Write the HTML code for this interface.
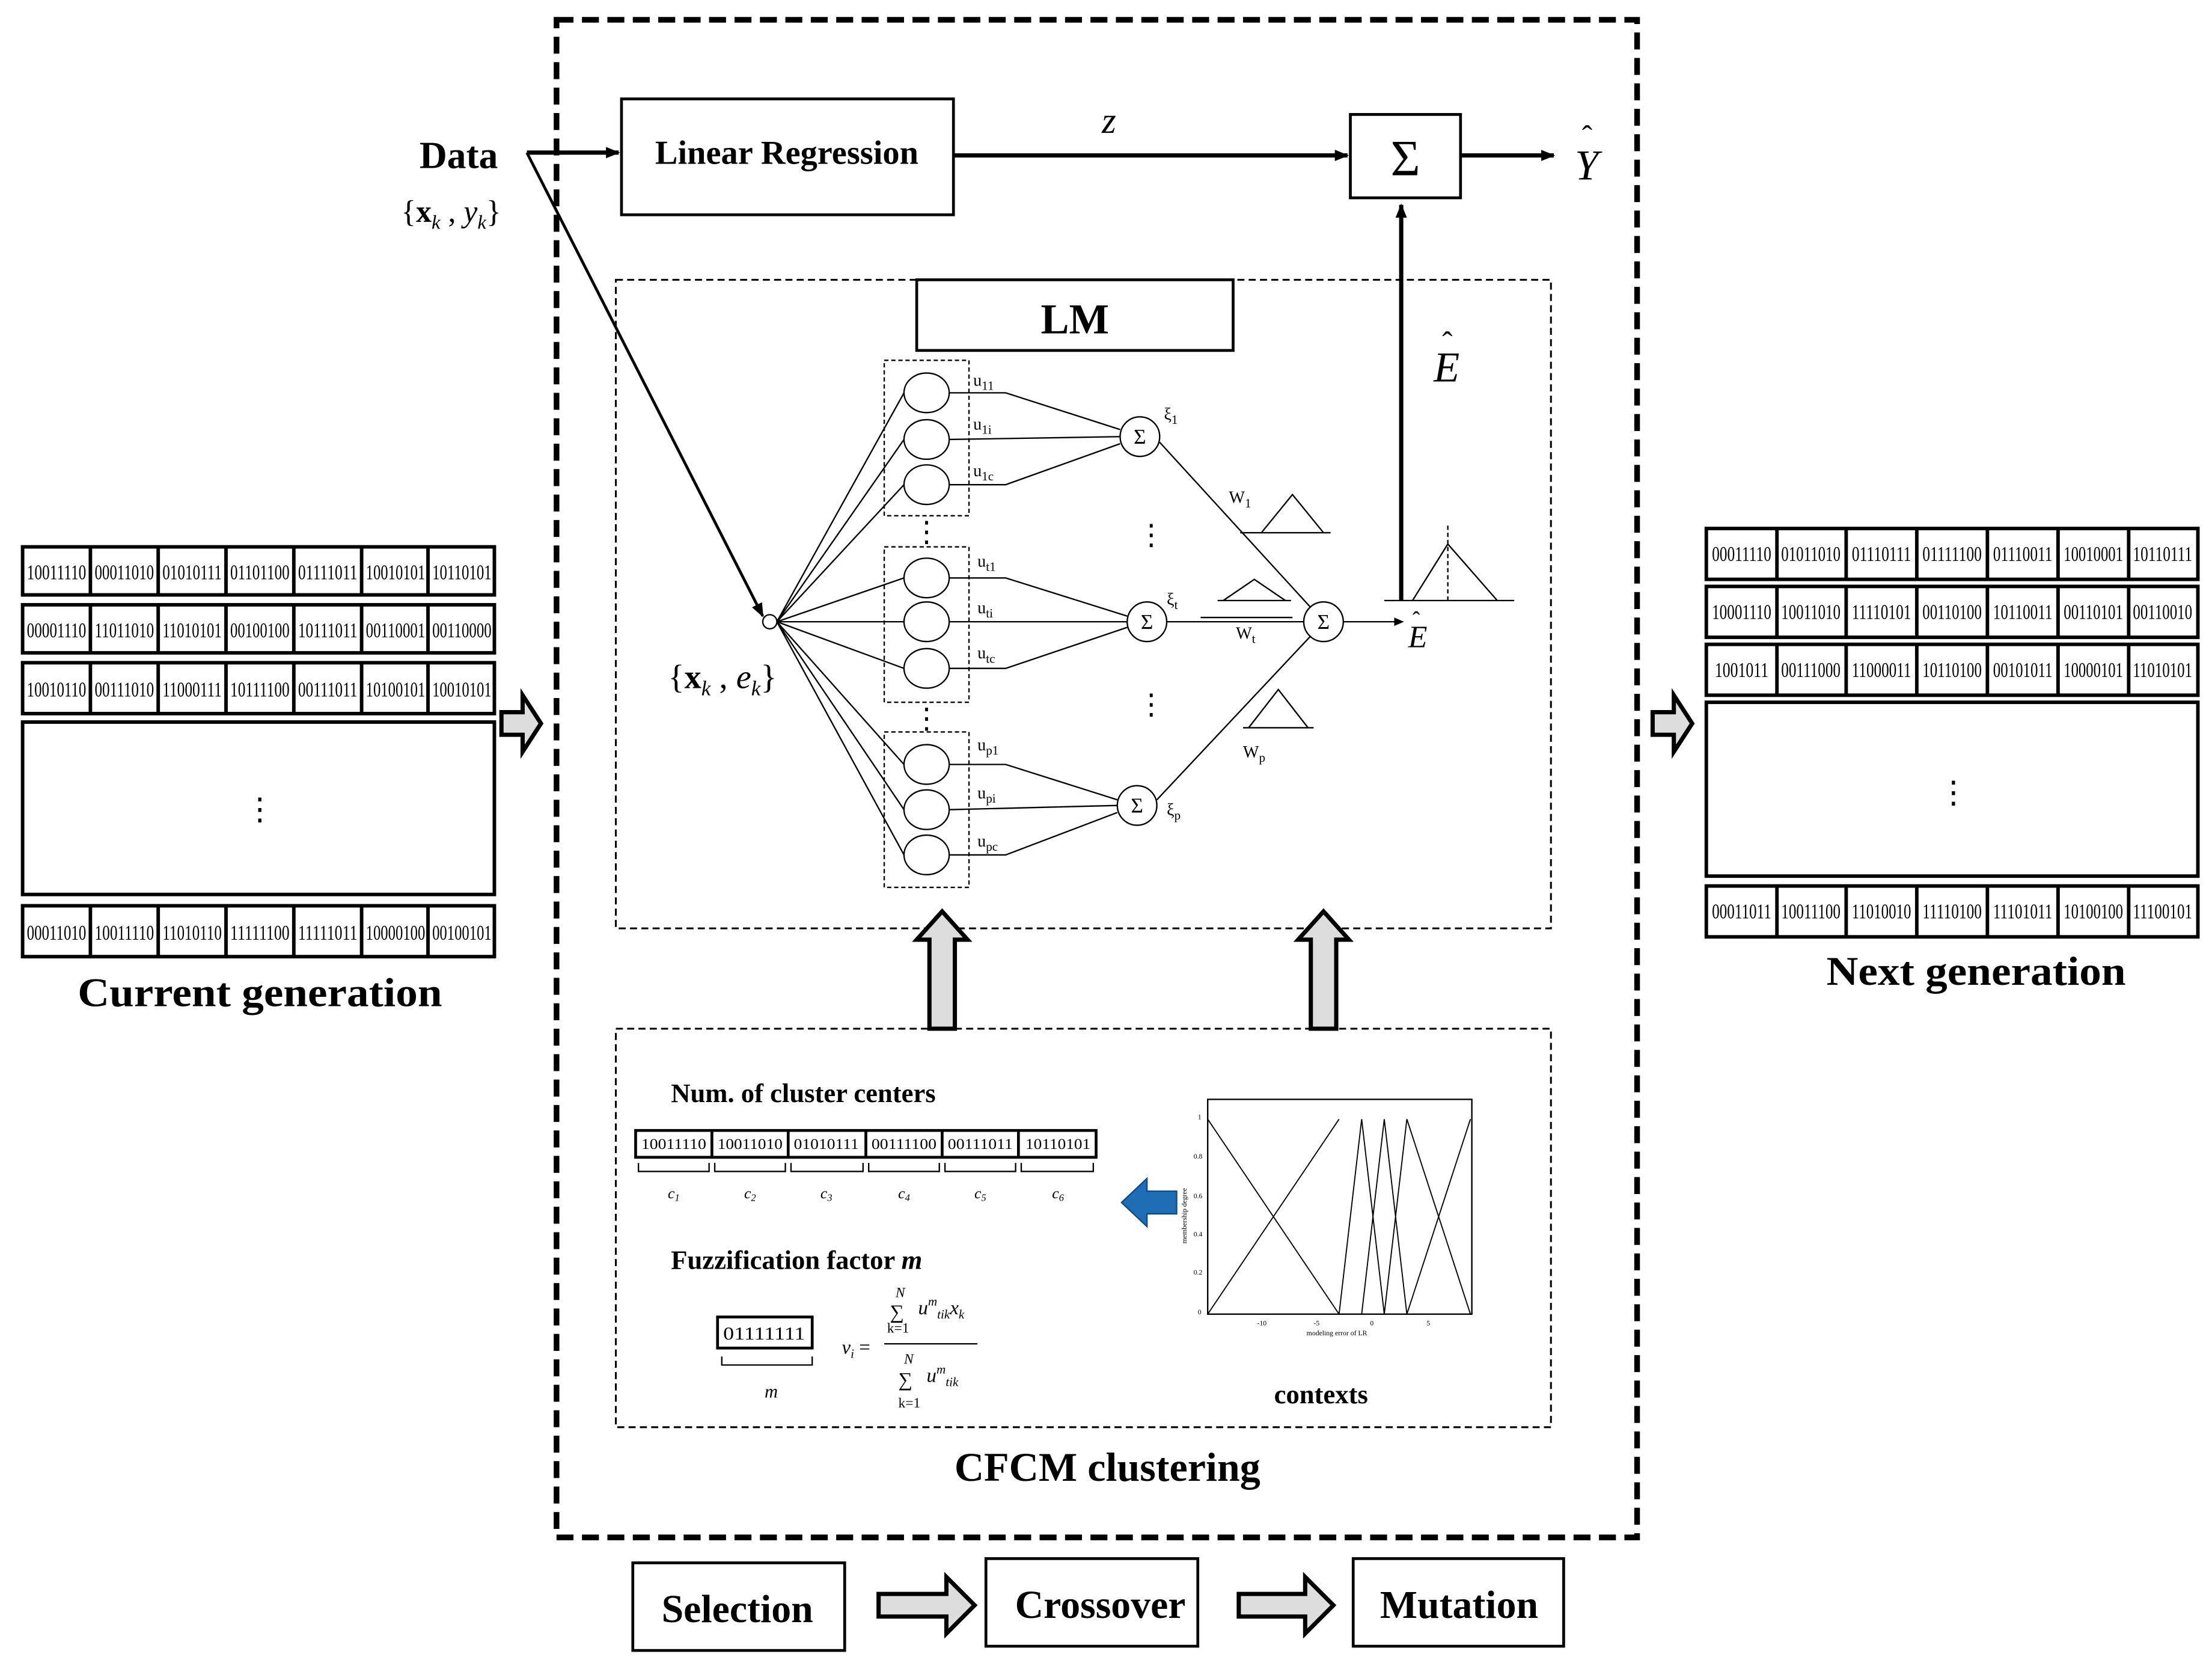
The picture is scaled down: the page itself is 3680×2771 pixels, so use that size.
<!DOCTYPE html>
<html><head><meta charset="utf-8"><style>
html,body{margin:0;padding:0;background:#fff}
svg{display:block}
text{font-family:"Liberation Serif",serif}
.b{font-weight:bold}
</style></head><body>
<svg width="3680" height="2771" viewBox="0 0 1566 1179" preserveAspectRatio="none" xmlns="http://www.w3.org/2000/svg">
<defs>
<marker id="a" markerWidth="10" markerHeight="10" refX="9" refY="5" orient="auto" markerUnits="userSpaceOnUse"><path d="M0,1 L10,5 L0,9 z" fill="#000"/></marker>
<marker id="s" markerWidth="7" markerHeight="7" refX="6" refY="3.5" orient="auto" markerUnits="userSpaceOnUse"><path d="M0,0.5 L7,3.5 L0,6.5 z" fill="#000"/></marker>
</defs>
<rect width="1566" height="1179" fill="#fff"/>
<rect x="394" y="14" width="765" height="1074" fill="none" stroke="#000" stroke-width="4" stroke-dasharray="12,6"/>
<text x="297" y="119" font-size="27" class="b">Data</text>
<text x="284" y="157" font-size="22">{<tspan font-weight="bold">x</tspan><tspan font-size="14" font-style="italic" dy="5">k</tspan><tspan dy="-5"> , </tspan><tspan font-style="italic">y</tspan><tspan font-size="14" font-style="italic" dy="5">k</tspan><tspan dy="-5">}</tspan></text>
<line x1="373" y1="108" x2="438" y2="108" stroke="#000" stroke-width="3" marker-end="url(#a)"/>
<rect x="440" y="70" width="235" height="82" fill="none" stroke="#000" stroke-width="2"/>
<text x="557" y="116" font-size="24" class="b" text-anchor="middle">Linear Regression</text>
<line x1="675" y1="110" x2="954" y2="110" stroke="#000" stroke-width="3" marker-end="url(#a)"/>
<text x="780" y="94" font-size="26" font-style="italic">z</text>
<rect x="956" y="81" width="78" height="59" fill="none" stroke="#000" stroke-width="2"/>
<text x="995" y="124" font-size="36" text-anchor="middle">Σ</text>
<line x1="1034" y1="110" x2="1100" y2="110" stroke="#000" stroke-width="3" marker-end="url(#a)"/>
<text x="1115" y="127" font-size="30" font-style="italic">Y</text><text x="1120" y="104" font-size="22">ˆ</text>
<line x1="992" y1="425" x2="992" y2="145" stroke="#000" stroke-width="3" marker-end="url(#a)"/>
<text x="1015" y="270" font-size="30" font-style="italic">E</text><text x="1021" y="250" font-size="22">ˆ</text>
<rect x="436" y="198" width="662" height="459" fill="none" stroke="#000" stroke-width="1.3" stroke-dasharray="5,3"/>
<rect x="649" y="198" width="224" height="50" fill="#fff" stroke="#000" stroke-width="2"/>
<text x="761" y="236" font-size="30" class="b" text-anchor="middle">LM</text>
<line x1="373" y1="108" x2="540" y2="436" stroke="#000" stroke-width="2" marker-end="url(#a)"/>
<circle cx="545" cy="440" r="5" fill="#fff" stroke="#000"/>
<text x="473" y="487" font-size="24">{<tspan font-weight="bold">x</tspan><tspan font-size="15" font-style="italic" dy="5">k</tspan><tspan dy="-5"> , </tspan><tspan font-style="italic">e</tspan><tspan font-size="15" font-style="italic" dy="5">k</tspan><tspan dy="-5">}</tspan></text>
<g fill="none" stroke="#000" stroke-width="1">
<rect x="626" y="255" width="60" height="110" stroke-dasharray="3,2"/>
<rect x="626" y="387" width="60" height="110" stroke-dasharray="3,2"/>
<rect x="626" y="518" width="60" height="110" stroke-dasharray="3,2"/>
<ellipse cx="656" cy="278" rx="16" ry="14"/><ellipse cx="656" cy="311" rx="16" ry="14"/><ellipse cx="656" cy="343" rx="16" ry="14"/>
<ellipse cx="656" cy="409" rx="16" ry="14"/><ellipse cx="656" cy="440" rx="16" ry="14"/><ellipse cx="656" cy="473" rx="16" ry="14"/>
<ellipse cx="656" cy="541" rx="16" ry="14"/><ellipse cx="656" cy="573" rx="16" ry="14"/><ellipse cx="656" cy="605" rx="16" ry="14"/>
<path d="M550,440 L640,278 M550,440 L640,311 M550,440 L640,343 M550,440 L640,409 M550,440 L640,440 M550,440 L640,473 M550,440 L640,541 M550,440 L640,573 M550,440 L640,605"/>
<path d="M672,278 L712,278 L793,304 M672,311 L793,309 M672,343 L712,343 L793,314"/>
<path d="M672,409 L712,409 L798,436 M672,440 L798,440 M672,473 L712,473 L798,444"/>
<path d="M672,541 L712,541 L791,566 M672,573 L791,570 M672,605 L712,605 L791,575"/>
<circle cx="807" cy="309" r="14" fill="#fff"/><circle cx="812" cy="440" r="14" fill="#fff"/><circle cx="805" cy="570" r="14" fill="#fff"/>
<circle cx="937" cy="440" r="14" fill="#fff"/>
<path d="M821,313 L928,430 M826,440 L923,440 M819,566 L928,450"/>
<path d="M893,377 L915,350 L937,377 M866,425 L888,410 L910,425 M884,515 L905,488 L926,515"/>
<path d="M878,377 L942,377 M850,437 L915,437 M862,425 L914,425 M880,515 L930,515"/>
<path d="M980,425 L1072,425 M1000,425 L1025,385 L1060,425"/>
<path d="M1025,372 L1025,425" stroke-dasharray="3,2"/>
</g>
<line x1="951" y1="440" x2="993" y2="440" stroke="#000" stroke-width="1" marker-end="url(#s)"/>
<g font-size="15" text-anchor="middle">
<text x="807" y="314">Σ</text><text x="812" y="445">Σ</text><text x="805" y="575">Σ</text><text x="937" y="445">Σ</text>
</g>
<text x="997" y="458" font-size="22" font-style="italic">E</text><text x="1000" y="444" font-size="16">ˆ</text>
<g font-size="12">
<text x="689" y="273">u<tspan font-size="9" dy="3">11</tspan></text>
<text x="689" y="304">u<tspan font-size="9" dy="3">1i</tspan></text>
<text x="689" y="337">u<tspan font-size="9" dy="3">1c</tspan></text>
<text x="692" y="401">u<tspan font-size="9" dy="3">t1</tspan></text>
<text x="692" y="434">u<tspan font-size="9" dy="3">ti</tspan></text>
<text x="692" y="466">u<tspan font-size="9" dy="3">tc</tspan></text>
<text x="692" y="531">u<tspan font-size="9" dy="3">p1</tspan></text>
<text x="692" y="565">u<tspan font-size="9" dy="3">pi</tspan></text>
<text x="692" y="599">u<tspan font-size="9" dy="3">pc</tspan></text>
<text x="824" y="297">ξ<tspan font-size="9" dy="3">1</tspan></text>
<text x="826" y="428">ξ<tspan font-size="9" dy="3">t</tspan></text>
<text x="826" y="577">ξ<tspan font-size="9" dy="3">p</tspan></text>
<text x="870" y="356">W<tspan font-size="9" dy="3">1</tspan></text>
<text x="875" y="452">W<tspan font-size="9" dy="3">t</tspan></text>
<text x="880" y="536">W<tspan font-size="9" dy="3">p</tspan></text>
</g>
<g font-size="20" text-anchor="middle"><text x="815" y="385">⋮</text><text x="815" y="505">⋮</text><text x="656" y="383">⋮</text><text x="656" y="515">⋮</text></g>
<g fill="#ddd" stroke="#000" stroke-width="3">
<path d="M658,728 L676,728 L676,665 L685,665 L667,645 L649,665 L658,665 z"/>
<path d="M928,728 L946,728 L946,665 L955,665 L937,645 L919,665 L928,665 z"/>
</g>
<rect x="436" y="728" width="662" height="282" fill="none" stroke="#000" stroke-width="1.3" stroke-dasharray="5,3"/>
<text x="475" y="780" font-size="19" class="b">Num. of cluster centers</text>
<g font-size="11">
<rect x="450" y="800" width="326" height="19" fill="none" stroke="#000" stroke-width="2"/>
<path d="M504,800 v19 M558,800 v19 M613,800 v19 M667,800 v19 M721,800 v19" stroke="#000" stroke-width="2"/>
<text x="454" y="813" textLength="46" lengthAdjust="spacingAndGlyphs">10011110</text><text x="508" y="813" textLength="46" lengthAdjust="spacingAndGlyphs">10011010</text><text x="562" y="813" textLength="46" lengthAdjust="spacingAndGlyphs">01010111</text><text x="617" y="813" textLength="46" lengthAdjust="spacingAndGlyphs">00111100</text><text x="671" y="813" textLength="46" lengthAdjust="spacingAndGlyphs">00111011</text><text x="726" y="813" textLength="46" lengthAdjust="spacingAndGlyphs">10110101</text>
</g>
<path d="M452,823 v6 h50 v-6 M506,823 v6 h50 v-6 M560,823 v6 h51 v-6 M615,823 v6 h50 v-6 M669,823 v6 h50 v-6 M723,823 v6 h51 v-6" fill="none" stroke="#000"/>
<g font-size="11" font-style="italic" text-anchor="middle"><text x="477" y="848">c<tspan font-size="7" dy="2">1</tspan></text><text x="531" y="848">c<tspan font-size="7" dy="2">2</tspan></text><text x="585" y="848">c<tspan font-size="7" dy="2">3</tspan></text><text x="640" y="848">c<tspan font-size="7" dy="2">4</tspan></text><text x="694" y="848">c<tspan font-size="7" dy="2">5</tspan></text><text x="749" y="848">c<tspan font-size="7" dy="2">6</tspan></text></g>
<text x="475" y="898" font-size="19" class="b">Fuzzification factor <tspan font-style="italic">m</tspan></text>
<rect x="508" y="932" width="67" height="22" fill="none" stroke="#000" stroke-width="2"/>
<text x="512" y="948" font-size="13" textLength="58" lengthAdjust="spacingAndGlyphs">01111111</text>
<path d="M511,960 v6 h64 v-6" fill="none" stroke="#000"/>
<text x="546" y="989" font-size="13" font-style="italic" text-anchor="middle">m</text>
<g font-size="14" font-style="italic">
<text x="596" y="958">v<tspan font-size="9" dy="3">i</tspan><tspan dy="-3" font-style="normal"> =</tspan></text>
<text x="634" y="918" font-size="10">N</text><text x="630" y="933" font-style="normal">∑</text><text x="650" y="930">u<tspan font-size="9" dy="-6">m</tspan><tspan font-size="9" dy="9">tik</tspan><tspan dy="-3">x</tspan><tspan font-size="9" dy="3">k</tspan></text>
<text x="628" y="943" font-size="10" font-style="normal">k=1</text>
<line x1="626" y1="951" x2="692" y2="951" stroke="#000"/>
<text x="640" y="965" font-size="10">N</text><text x="636" y="981" font-style="normal">∑</text><text x="656" y="978">u<tspan font-size="9" dy="-6">m</tspan><tspan font-size="9" dy="9">tik</tspan></text>
<text x="636" y="996" font-size="10" font-style="normal">k=1</text>
</g>
<path d="M833,843 L812,843 L812,834 L794,851 L812,868 L812,859 L833,859 z" fill="#1f6db5" stroke="#0d4a85"/>
<rect x="855" y="778" width="187" height="152" fill="#fff" stroke="#000"/>
<g fill="none" stroke="#000" stroke-width="0.8">
<path d="M855,792 L948,930 M855,930 L948,792 M948,930 L964,792 L980,930 M964,930 L980,792 L996,930 M980,930 L996,792 L1041,930 M996,930 L1041,792"/>
</g>
<g font-size="5" font-family="Liberation Sans,sans-serif"><text x="890" y="938">-10</text><text x="930" y="938">-5</text><text x="970" y="938">0</text><text x="1010" y="938">5</text><text x="925" y="945">modeling error of LR</text>
<text x="848" y="792">1</text><text x="845" y="820">0.8</text><text x="845" y="848">0.6</text><text x="845" y="875">0.4</text><text x="845" y="902">0.2</text><text x="848" y="930">0</text></g>
<text x="840" y="880" font-size="5" font-family="Liberation Sans,sans-serif" transform="rotate(-90 840 880)">membership degree</text>
<text x="902" y="993" font-size="19" class="b">contexts</text>
<text x="784" y="1048" font-size="29" class="b" text-anchor="middle">CFCM clustering</text>
<g fill="none" stroke="#000" stroke-width="2.5">
<rect x="16" y="387" width="334" height="34"/><rect x="16" y="428" width="334" height="34"/><rect x="16" y="469" width="334" height="36"/>
<rect x="16" y="511" width="334" height="122"/><rect x="16" y="641" width="334" height="36"/>
<path d="M64,387v34M112,387v34M160,387v34M208,387v34M256,387v34M303,387v34 M64,428v34M112,428v34M160,428v34M208,428v34M256,428v34M303,428v34 M64,469v36M112,469v36M160,469v36M208,469v36M256,469v36M303,469v36 M64,641v36M112,641v36M160,641v36M208,641v36M256,641v36M303,641v36"/>
<rect x="1208" y="374" width="348" height="36"/><rect x="1208" y="415" width="348" height="36"/><rect x="1208" y="456" width="348" height="36"/>
<rect x="1208" y="497" width="348" height="123"/><rect x="1208" y="627" width="348" height="36"/>
<path d="M1258,374v36M1307,374v36M1357,374v36M1407,374v36M1457,374v36M1507,374v36 M1258,415v36M1307,415v36M1357,415v36M1407,415v36M1457,415v36M1507,415v36 M1258,456v36M1307,456v36M1357,456v36M1407,456v36M1457,456v36M1507,456v36 M1258,627v36M1307,627v36M1357,627v36M1407,627v36M1457,627v36M1507,627v36"/>
</g>
<g font-size="15" text-anchor="middle" lengthAdjust="spacingAndGlyphs">
<text x="40" y="410" textLength="42" lengthAdjust="spacingAndGlyphs">10011110</text><text x="88" y="410" textLength="42" lengthAdjust="spacingAndGlyphs">00011010</text><text x="136" y="410" textLength="42" lengthAdjust="spacingAndGlyphs">01010111</text><text x="184" y="410" textLength="42" lengthAdjust="spacingAndGlyphs">01101100</text><text x="232" y="410" textLength="42" lengthAdjust="spacingAndGlyphs">01111011</text><text x="280" y="410" textLength="42" lengthAdjust="spacingAndGlyphs">10010101</text><text x="327" y="410" textLength="42" lengthAdjust="spacingAndGlyphs">10110101</text>
<text x="40" y="451" textLength="42" lengthAdjust="spacingAndGlyphs">00001110</text><text x="88" y="451" textLength="42" lengthAdjust="spacingAndGlyphs">11011010</text><text x="136" y="451" textLength="42" lengthAdjust="spacingAndGlyphs">11010101</text><text x="184" y="451" textLength="42" lengthAdjust="spacingAndGlyphs">00100100</text><text x="232" y="451" textLength="42" lengthAdjust="spacingAndGlyphs">10111011</text><text x="280" y="451" textLength="42" lengthAdjust="spacingAndGlyphs">00110001</text><text x="327" y="451" textLength="42" lengthAdjust="spacingAndGlyphs">00110000</text>
<text x="40" y="493" textLength="42" lengthAdjust="spacingAndGlyphs">10010110</text><text x="88" y="493" textLength="42" lengthAdjust="spacingAndGlyphs">00111010</text><text x="136" y="493" textLength="42" lengthAdjust="spacingAndGlyphs">11000111</text><text x="184" y="493" textLength="42" lengthAdjust="spacingAndGlyphs">10111100</text><text x="232" y="493" textLength="42" lengthAdjust="spacingAndGlyphs">00111011</text><text x="280" y="493" textLength="42" lengthAdjust="spacingAndGlyphs">10100101</text><text x="327" y="493" textLength="42" lengthAdjust="spacingAndGlyphs">10010101</text>
<text x="40" y="665" textLength="42" lengthAdjust="spacingAndGlyphs">00011010</text><text x="88" y="665" textLength="42" lengthAdjust="spacingAndGlyphs">10011110</text><text x="136" y="665" textLength="42" lengthAdjust="spacingAndGlyphs">11010110</text><text x="184" y="665" textLength="42" lengthAdjust="spacingAndGlyphs">11111100</text><text x="232" y="665" textLength="42" lengthAdjust="spacingAndGlyphs">11111011</text><text x="280" y="665" textLength="42" lengthAdjust="spacingAndGlyphs">10000100</text><text x="327" y="665" textLength="42" lengthAdjust="spacingAndGlyphs">00100101</text>
<text x="1233" y="397" textLength="42" lengthAdjust="spacingAndGlyphs">00011110</text><text x="1282" y="397" textLength="42" lengthAdjust="spacingAndGlyphs">01011010</text><text x="1332" y="397" textLength="42" lengthAdjust="spacingAndGlyphs">01110111</text><text x="1382" y="397" textLength="42" lengthAdjust="spacingAndGlyphs">01111100</text><text x="1432" y="397" textLength="42" lengthAdjust="spacingAndGlyphs">01110011</text><text x="1482" y="397" textLength="42" lengthAdjust="spacingAndGlyphs">10010001</text><text x="1531" y="397" textLength="42" lengthAdjust="spacingAndGlyphs">10110111</text>
<text x="1233" y="438" textLength="42" lengthAdjust="spacingAndGlyphs">10001110</text><text x="1282" y="438" textLength="42" lengthAdjust="spacingAndGlyphs">10011010</text><text x="1332" y="438" textLength="42" lengthAdjust="spacingAndGlyphs">11110101</text><text x="1382" y="438" textLength="42" lengthAdjust="spacingAndGlyphs">00110100</text><text x="1432" y="438" textLength="42" lengthAdjust="spacingAndGlyphs">10110011</text><text x="1482" y="438" textLength="42" lengthAdjust="spacingAndGlyphs">00110101</text><text x="1531" y="438" textLength="42" lengthAdjust="spacingAndGlyphs">00110010</text>
<text x="1233" y="479" textLength="38" lengthAdjust="spacingAndGlyphs">1001011</text><text x="1282" y="479" textLength="42" lengthAdjust="spacingAndGlyphs">00111000</text><text x="1332" y="479" textLength="42" lengthAdjust="spacingAndGlyphs">11000011</text><text x="1382" y="479" textLength="42" lengthAdjust="spacingAndGlyphs">10110100</text><text x="1432" y="479" textLength="42" lengthAdjust="spacingAndGlyphs">00101011</text><text x="1482" y="479" textLength="42" lengthAdjust="spacingAndGlyphs">10000101</text><text x="1531" y="479" textLength="42" lengthAdjust="spacingAndGlyphs">11010101</text>
<text x="1233" y="650" textLength="42" lengthAdjust="spacingAndGlyphs">00011011</text><text x="1282" y="650" textLength="42" lengthAdjust="spacingAndGlyphs">10011100</text><text x="1332" y="650" textLength="42" lengthAdjust="spacingAndGlyphs">11010010</text><text x="1382" y="650" textLength="42" lengthAdjust="spacingAndGlyphs">11110100</text><text x="1432" y="650" textLength="42" lengthAdjust="spacingAndGlyphs">11101011</text><text x="1482" y="650" textLength="42" lengthAdjust="spacingAndGlyphs">10100100</text><text x="1531" y="650" textLength="42" lengthAdjust="spacingAndGlyphs">11100101</text>
</g>
<text x="184" y="580" font-size="22" text-anchor="middle">⋮</text>
<text x="1383" y="568" font-size="22" text-anchor="middle">⋮</text>
<text x="55" y="712" font-size="29" class="b" textLength="258" lengthAdjust="spacingAndGlyphs">Current generation</text>
<text x="1293" y="697" font-size="29" class="b" textLength="212" lengthAdjust="spacingAndGlyphs">Next generation</text>
<g fill="#ddd" stroke="#000" stroke-width="3">
<path d="M355,504 L370,504 L370,492 L383,512 L370,532 L370,520 L355,520 z"/>
<path d="M1170,504 L1185,504 L1185,492 L1198,512 L1185,532 L1185,520 L1170,520 z"/>
<path d="M622,1128 L670,1128 L670,1116 L690,1136 L670,1156 L670,1144 L622,1144 z"/>
<path d="M877,1128 L924,1128 L924,1116 L944,1136 L924,1156 L924,1144 L877,1144 z"/>
</g>
<g fill="none" stroke="#000" stroke-width="2">
<rect x="448" y="1106" width="150" height="62"/><rect x="698" y="1103" width="150" height="62"/><rect x="958" y="1103" width="149" height="62"/>
</g>
<g font-size="28" class="b" text-anchor="middle">
<text x="522" y="1148">Selection</text><text x="779" y="1145">Crossover</text><text x="1033" y="1145">Mutation</text>
</g>
</svg>
</body></html>
